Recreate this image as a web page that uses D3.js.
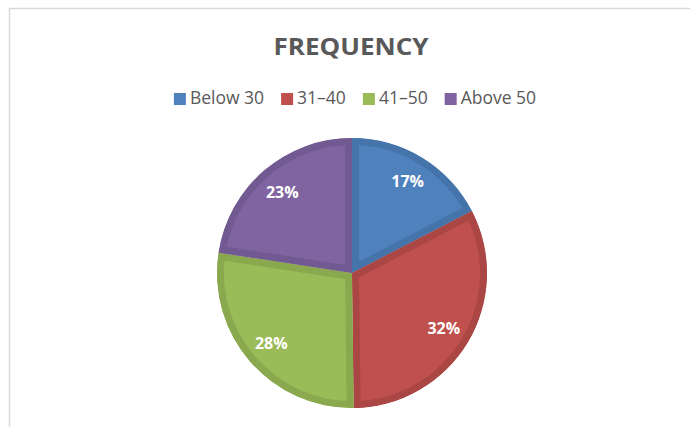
<!DOCTYPE html>
<html><head><meta charset="utf-8">
<script src="https://cdn.jsdelivr.net/npm/d3@7"></script>
<style>body{margin:0;background:#fff}svg{display:block}</style>
</head><body>
<script>
const categories = ["Below 30", "31–40", "41–50", "Above 50"];
const values = [17.4, 32.4, 27.6, 22.6];
const fills = ["#4f81bd", "#c0504d", "#9bbb59", "#8064a2"];
const borders = ["#4574ab", "#aa4643", "#8aa84d", "#715991"];
const title = "FREQUENCY";

const W = 690, H = 427;
const svg = d3.select("body").append("svg").attr("width", W).attr("height", H);

// frame
svg.append("path").attr("d", `M9.5,${H} V8.5 H${W}`).attr("fill","none").attr("stroke","#d9d9d9").attr("stroke-width",1.5);

const font = "'Open Sans', 'Liberation Sans', sans-serif";

svg.append("text").attr("x", 351).attr("y", 55).attr("text-anchor","middle")
  .attr("font-family", font).attr("font-weight", "bold").attr("font-size", 24)
  .attr("fill", "#595959").attr("textLength", 155).attr("lengthAdjust","spacingAndGlyphs")
  .text(title);

// legend
const legend = svg.append("g");
const lf = 17.5;
let x = 0;
categories.forEach((c, i) => {
  const g = legend.append("g");
  g.append("rect").attr("x", 0).attr("y", -11).attr("width", 12).attr("height", 12).attr("fill", fills[i]);
  const t = g.append("text").attr("x", 16).attr("y", 0).attr("font-family", font).attr("font-size", lf)
    .attr("fill", "#595959").text(c);
  const w = t.node().getComputedTextLength();
  g.attr("transform", `translate(${x},0)`);
  x += 16 + w + 17;
});
const totalW = x - 17;
legend.attr("transform", `translate(${355 - totalW/2},104)`);

// pie
const cx = 352, cy = 273, r = 135, bw = 7;
const pie = d3.pie().sort(null).value(d => d)(values);
const arc = d3.arc().innerRadius(0).outerRadius(r);
const labelArc = d3.arc().innerRadius(107).outerRadius(107);
const total = d3.sum(values);
const g = svg.append("g").attr("transform", `translate(${cx},${cy})`);
const defs = svg.append("defs");
pie.forEach((d, i) => {
  defs.append("clipPath").attr("id", "clip" + i).append("path").attr("d", arc(d));
});
g.selectAll("path.slice").data(pie).join("path").attr("class","slice")
  .attr("d", arc).attr("fill", (d, i) => fills[i])
  .attr("stroke", (d, i) => borders[i]).attr("stroke-width", bw * 2)
  .attr("stroke-linejoin", "miter")
  .attr("clip-path", (d, i) => `url(#clip${i})`);
g.selectAll("text.lbl").data(pie).join("text").attr("class","lbl")
  .attr("transform", d => `translate(${labelArc.centroid(d)})`)
  .attr("text-anchor","middle").attr("dy","0.36em")
  .attr("font-family", font).attr("font-weight","bold").attr("font-size", 16)
  .attr("fill","#fff")
  .text(d => Math.round(d.data / total * 100) + "%");
</script>
</body></html>
